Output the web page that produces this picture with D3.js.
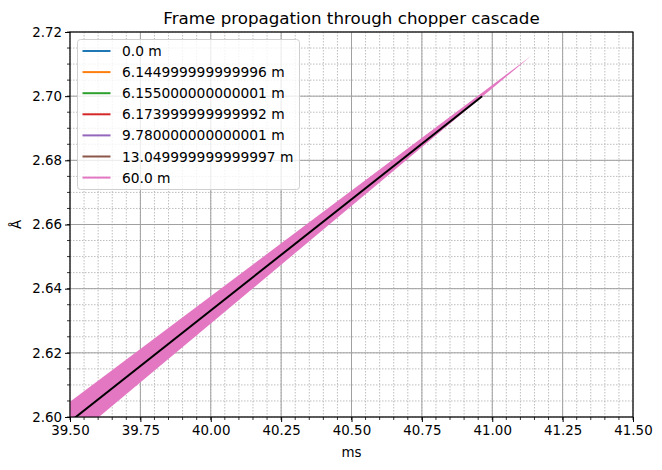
<!DOCTYPE html>
<html>
<head>
<meta charset="utf-8">
<script src="https://cdn.jsdelivr.net/npm/d3@7"></script>
<style>
  body { margin: 0; background: #fff; }
  svg { display: block; font-family: "DejaVu Sans", sans-serif; }
</style>
</head>
<body>
<div id="chart"></div>
<script>
const title = "Frame propagation through chopper cascade";
const xLabel = "ms";
const yLabel = "Å";
const xDomain = [39.5, 41.5];
const yDomain = [2.60, 2.72];
const xTicks = [39.5, 39.75, 40.0, 40.25, 40.5, 40.75, 41.0, 41.25, 41.5];
const yTicks = [2.60, 2.62, 2.64, 2.66, 2.68, 2.70, 2.72];
const legendLabels = ["0.0 m", "6.144999999999996 m", "6.155000000000001 m", "6.173999999999992 m",
  "9.780000000000001 m", "13.049999999999997 m", "60.0 m"];
const legendColors = ["#1f77b4", "#ff7f0e", "#2ca02c", "#d62728", "#9467bd", "#8c564b", "#e377c2"];
// 60 m frame polygon (time ms, wavelength Å)
const frameTime = [41.14, 39.30, 39.30];
const frameWav = [2.7127, 2.5916, 2.5778];
// black reference line
const lineTime = [39.45, 40.964];
const lineWav = [2.5951, 2.700];

const W = 662, H = 470;
const m = {left: 70, right: 29, top: 32, bottom: 53};
const iw = W - m.left - m.right, ih = H - m.top - m.bottom;

const svg = d3.select("#chart").append("svg").attr("width", W).attr("height", H);
const x = d3.scaleLinear().domain(xDomain).range([0, iw]);
const y = d3.scaleLinear().domain(yDomain).range([ih, 0]);

svg.append("defs").append("clipPath").attr("id", "clip")
  .append("rect").attr("width", iw).attr("height", ih);

const g = svg.append("g").attr("transform", `translate(${m.left},${m.top})`);

// minor grid
const xMinor = d3.range(0, 41).map(i => 39.5 + i * 0.05);
const yMinor = d3.range(0, 25).map(i => 2.60 + i * 0.005);
g.append("g").selectAll("line").data(xMinor).join("line")
  .attr("x1", d => x(d)).attr("x2", d => x(d)).attr("y1", 0).attr("y2", ih)
  .attr("stroke", "#bdbdbd").attr("stroke-width", 1).attr("stroke-dasharray", "1.5,1.5");
g.append("g").selectAll("line").data(yMinor).join("line")
  .attr("y1", d => y(d)).attr("y2", d => y(d)).attr("x1", 0).attr("x2", iw)
  .attr("stroke", "#bdbdbd").attr("stroke-width", 1).attr("stroke-dasharray", "1.5,1.5");
// major grid
g.append("g").selectAll("line").data(xTicks).join("line")
  .attr("x1", d => x(d)).attr("x2", d => x(d)).attr("y1", 0).attr("y2", ih)
  .attr("stroke", "#a0a0a0").attr("stroke-width", 1);
g.append("g").selectAll("line").data(yTicks).join("line")
  .attr("y1", d => y(d)).attr("y2", d => y(d)).attr("x1", 0).attr("x2", iw)
  .attr("stroke", "#a0a0a0").attr("stroke-width", 1);

// data
const plot = g.append("g").attr("clip-path", "url(#clip)");
const poly = frameTime.map((t, i) => [x(t), y(frameWav[i])]);
plot.append("polygon").attr("points", poly.map(p => p.join(",")).join(" "))
  .attr("fill", "#e377c2").attr("stroke", "none");
plot.append("path")
  .attr("d", d3.line()(lineTime.map((t, i) => [x(t), y(lineWav[i])])))
  .attr("stroke", "#000").attr("stroke-width", 2).attr("fill", "none");

// axes
const xAxis = d3.axisBottom(x).tickValues(xTicks).tickFormat(d3.format(".2f")).tickSizeOuter(0).tickSize(5).tickPadding(3);
const yAxis = d3.axisLeft(y).tickValues(yTicks).tickFormat(d3.format(".2f")).tickSizeOuter(0).tickSize(5).tickPadding(3);
const gx = g.append("g").attr("transform", `translate(0,${ih})`).call(xAxis);
const gy = g.append("g").call(yAxis);
[gx, gy].forEach(a => {
  a.select(".domain").remove();
  a.selectAll("text").attr("font-size", 13.4).attr("fill", "#000").attr("font-family", "DejaVu Sans");
  a.selectAll("line").attr("stroke", "#000").attr("stroke-width", 1);
});
// minor ticks
g.append("g").selectAll("line").data(xMinor).join("line")
  .attr("x1", d => x(d)).attr("x2", d => x(d)).attr("y1", ih).attr("y2", ih + 3)
  .attr("stroke", "#000").attr("stroke-width", 0.8);
g.append("g").selectAll("line").data(yMinor).join("line")
  .attr("y1", d => y(d)).attr("y2", d => y(d)).attr("x1", 0).attr("x2", -3)
  .attr("stroke", "#000").attr("stroke-width", 0.8);

// spines
g.append("rect").attr("width", iw).attr("height", ih).attr("fill", "none")
  .attr("stroke", "#000").attr("stroke-width", 1.1);

// title and labels
svg.append("text").attr("x", m.left + iw / 2).attr("y", 24).attr("text-anchor", "middle")
  .attr("font-size", 16.7).text(title);
svg.append("text").attr("x", m.left + iw / 2).attr("y", 457).attr("text-anchor", "middle")
  .attr("font-size", 13.4).text(xLabel);
svg.append("text").attr("transform", `translate(21,${m.top + ih / 2}) rotate(-90)`)
  .attr("text-anchor", "middle").attr("font-size", 13.4).text(yLabel);

// legend
const lg = svg.append("g").attr("transform", "translate(77.5,39.5)");
lg.append("rect").attr("width", 222).attr("height", 150).attr("rx", 3)
  .attr("fill", "#fff").attr("fill-opacity", 0.8).attr("stroke", "#d0d0d0").attr("stroke-width", 1);
const rows = lg.selectAll("g.row").data(legendLabels).join("g").attr("class", "row")
  .attr("transform", (d, i) => `translate(0,${11.5 + i * 21.1})`);
rows.append("line").attr("x1", 5).attr("x2", 33).attr("y1", 0).attr("y2", 0)
  .attr("stroke", (d, i) => legendColors[i]).attr("stroke-width", 2);
rows.append("text").attr("x", 44.5).attr("y", 5).attr("font-size", 13.8).text(d => d);
</script>
</body>
</html>
